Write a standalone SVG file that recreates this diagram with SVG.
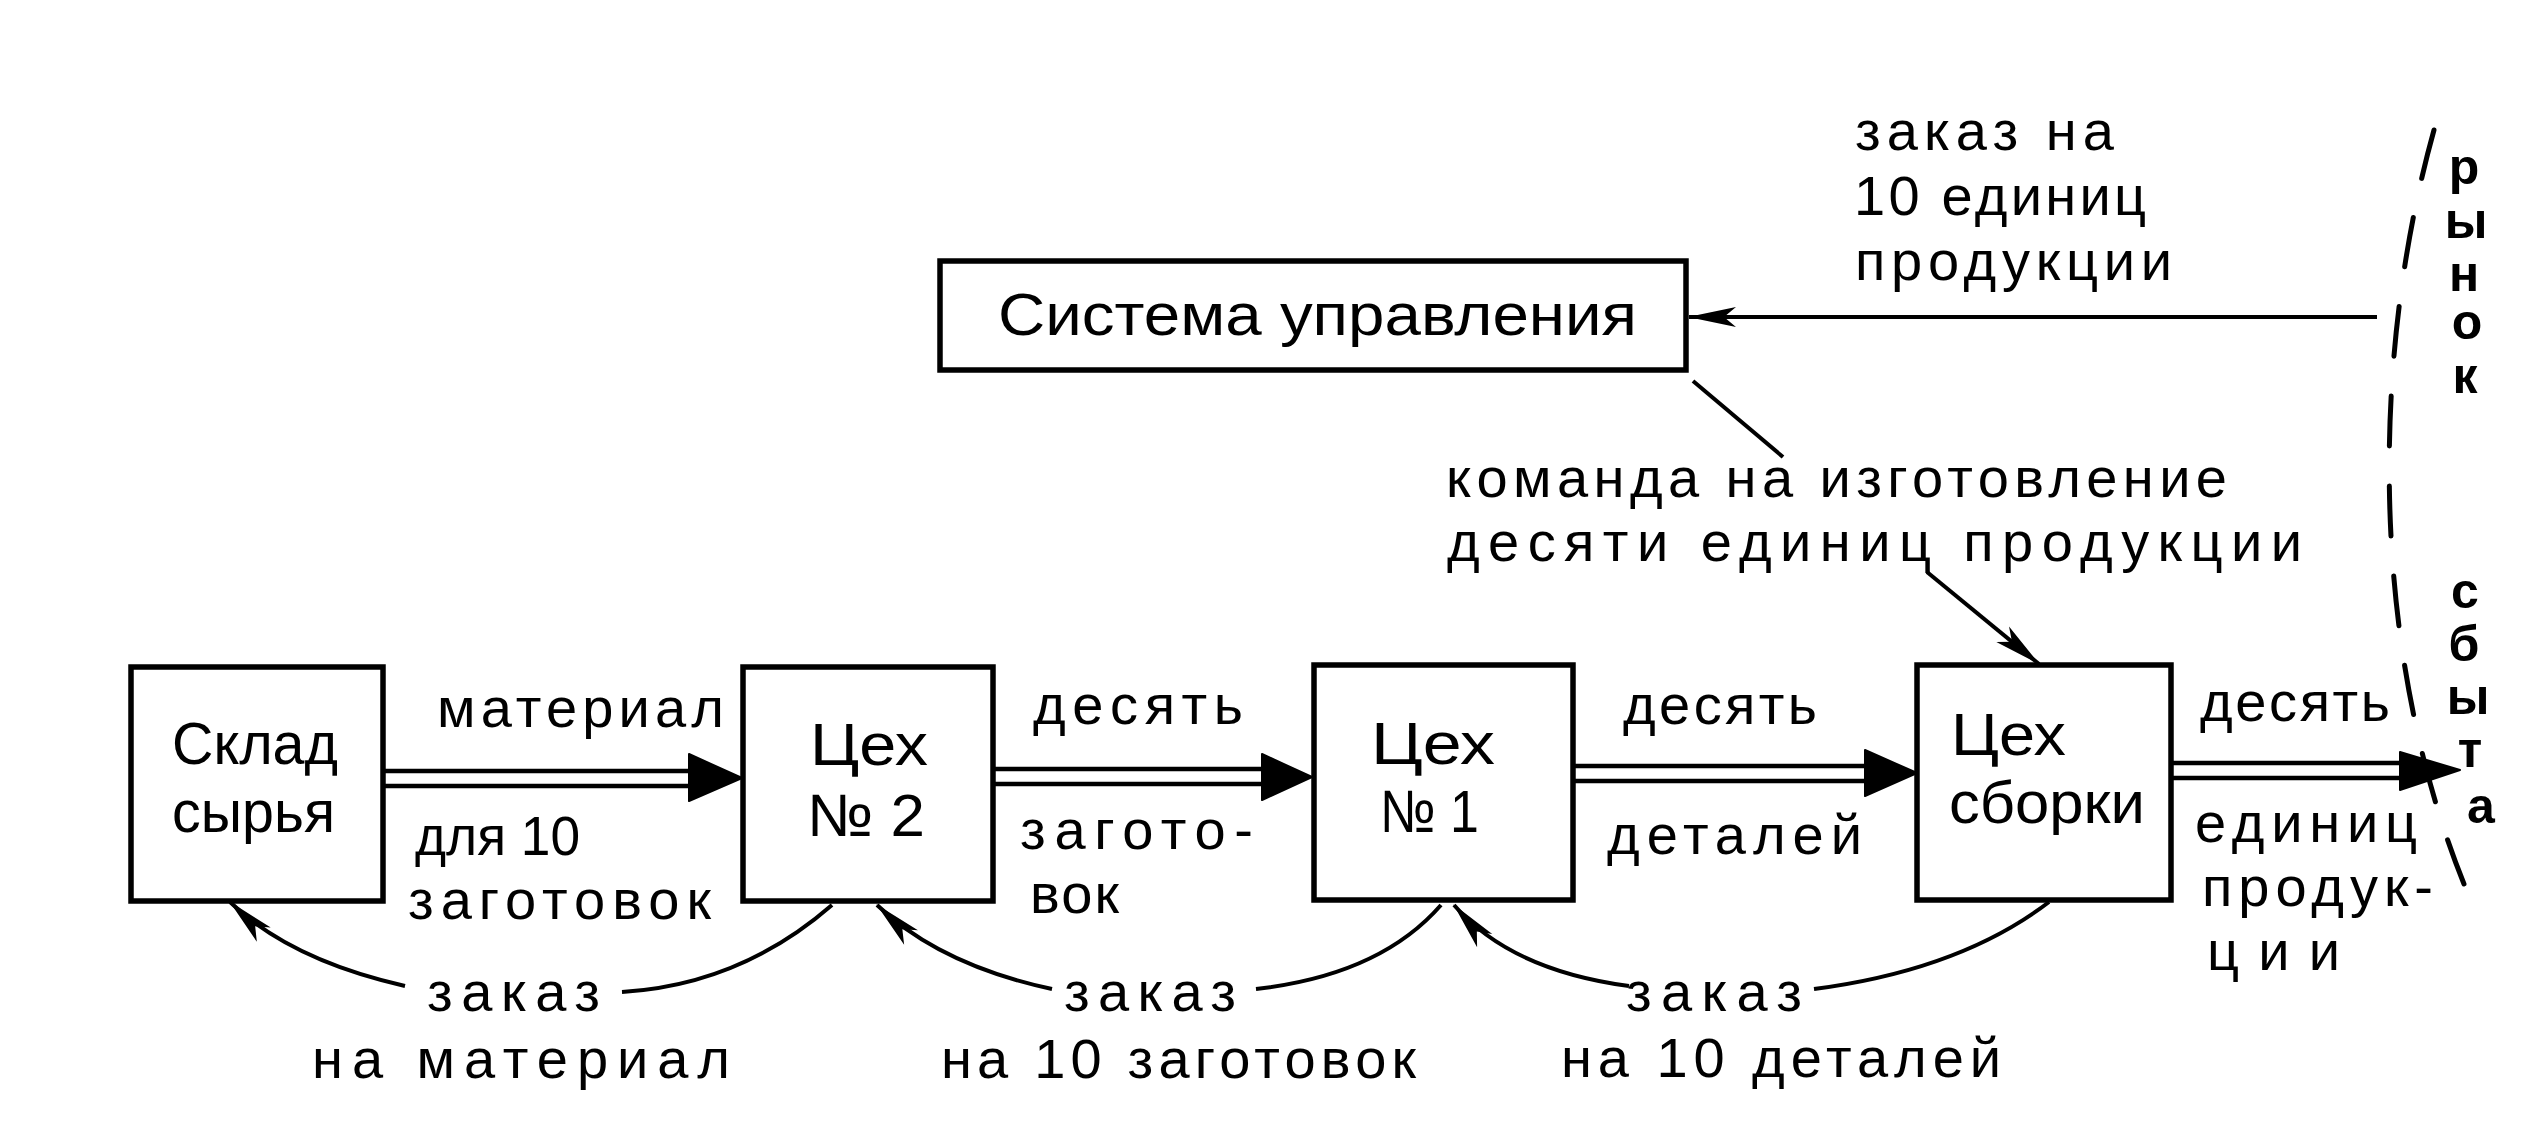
<svg xmlns="http://www.w3.org/2000/svg" width="2541" height="1135" viewBox="0 0 2541 1135">
<style>
.box{fill:#fff;stroke:#000;stroke-width:5.5}
.t{font-family:"Liberation Sans","DejaVu Sans",sans-serif;font-size:60px;fill:#000}
.l{font-family:"Liberation Sans","DejaVu Sans",sans-serif;font-size:56px;fill:#000}
.v{font-family:"Liberation Sans","DejaVu Sans",sans-serif;font-size:50px;font-weight:bold;fill:#000;text-anchor:middle}
.dbl{stroke:#000;stroke-width:4.5;fill:none}
.thin{stroke:#000;stroke-width:4;fill:none}
.head{fill:#000;stroke:#000;stroke-width:2;stroke-linejoin:round}
.dash{stroke:#000;stroke-width:5;fill:none;stroke-dasharray:50 40;stroke-linecap:round}
</style>
<defs>
<marker id="arr" viewBox="0 0 50 24" refX="48" refY="12" markerWidth="50" markerHeight="24" markerUnits="userSpaceOnUse" orient="auto">
<path d="M1,2 L49,12 L1,22 L13,12 Z" fill="#000"/>
</marker>
</defs>
<rect width="2541" height="1135" fill="#fff"/>

<g id="connectors">
<line class="dbl" x1="383" y1="771" x2="692" y2="771"/>
<line class="dbl" x1="383" y1="786" x2="692" y2="786"/>
<polygon class="head" points="689,754 742,778 689,801"/>
<line class="dbl" x1="993" y1="769" x2="1265" y2="769"/>
<line class="dbl" x1="993" y1="784" x2="1265" y2="784"/>
<polygon class="head" points="1262,754 1312,777 1262,800"/>
<line class="dbl" x1="1573" y1="766" x2="1868" y2="766"/>
<line class="dbl" x1="1573" y1="781" x2="1868" y2="781"/>
<polygon class="head" points="1865,750 1917,773 1865,796"/>
<line class="dbl" x1="2171" y1="763" x2="2403" y2="763"/>
<line class="dbl" x1="2171" y1="778" x2="2403" y2="778"/>
<polygon class="head" points="2400,752 2460,770 2400,790"/>
<line class="thin" x1="2377" y1="317" x2="1689" y2="317" marker-end="url(#arr)"/>
<line class="thin" x1="1693" y1="381" x2="1783" y2="457"/>
<line class="thin" x1="1927" y1="572" x2="2039" y2="664" marker-end="url(#arr)"/>
<path class="thin" d="M832,905 Q740,985 622,992"/>
<path class="thin" d="M405,986 Q290,960 230,902" marker-end="url(#arr)"/>
<path class="thin" d="M1256,989 Q1380,975 1441,905"/>
<path class="thin" d="M1052,989 Q940,965 877,905" marker-end="url(#arr)"/>
<path class="thin" d="M1814,989 Q1960,970 2049,902"/>
<path class="thin" d="M1629,986 Q1510,970 1454,905" marker-end="url(#arr)"/>
<path class="dash" d="M2434,130 C2370,360 2370,650 2464,884"/>
</g>

<g id="control">
<rect class="box" x="940" y="261" width="746" height="109"/>
<text class="t" x="998" y="335" textLength="639" lengthAdjust="spacingAndGlyphs">Система управления</text>
</g>
<g id="sklad">
<rect class="box" x="131" y="667" width="252" height="234"/>
<text class="t"><tspan x="172" y="764" textLength="166" lengthAdjust="spacingAndGlyphs">Склад</tspan><tspan x="172" y="832" textLength="163" lengthAdjust="spacingAndGlyphs">сырья</tspan></text>
</g>
<g id="ceh2">
<rect class="box" x="743" y="667" width="250" height="234"/>
<text class="t"><tspan x="810" y="765" textLength="118" lengthAdjust="spacingAndGlyphs">Цех</tspan><tspan x="807" y="836" textLength="118" lengthAdjust="spacingAndGlyphs">№ 2</tspan></text>
</g>
<g id="ceh1">
<rect class="box" x="1314" y="665" width="259" height="235"/>
<text class="t"><tspan x="1371" y="764" textLength="124" lengthAdjust="spacingAndGlyphs">Цех</tspan><tspan x="1380" y="832" textLength="99" lengthAdjust="spacingAndGlyphs">№ 1</tspan></text>
</g>
<g id="sborka">
<rect class="box" x="1917" y="665" width="254" height="235"/>
<text class="t"><tspan x="1951" y="755" textLength="115" lengthAdjust="spacingAndGlyphs">Цех</tspan><tspan x="1949" y="823" textLength="196" lengthAdjust="spacingAndGlyphs">сборки</tspan></text>
</g>
<g id="market">
<text class="v" x="2464 2466 2464 2467 2465" y="184 238 291 339 393">рынок</text>
<text class="v" x="2465 2464 2468 2470 2481" y="608 661 714 767 823">сбыта</text>
</g>
<g id="labels">
<text class="l"><tspan x="1855" y="150" textLength="259">заказ на</tspan><tspan x="1854" y="215" textLength="292">10 единиц</tspan><tspan x="1855" y="280" textLength="317">продукции</tspan></text>
<text class="l"><tspan x="1446" y="497" textLength="781">команда на изготовление</tspan><tspan x="1447" y="561" textLength="855">десяти единиц продукции</tspan></text>
<text class="l" x="437" y="727" textLength="287">материал</text>
<text class="l"><tspan x="415" y="855" textLength="165" lengthAdjust="spacingAndGlyphs">для 10</tspan><tspan x="408" y="919" textLength="303">заготовок</tspan></text>
<text class="l" x="1033" y="724" textLength="210">десять</text>
<text class="l"><tspan x="1020" y="849" textLength="233">загото-</tspan><tspan x="1030" y="913" textLength="89">вок</tspan></text>
<text class="l" x="1623" y="724" textLength="194">десять</text>
<text class="l" x="1607" y="854" textLength="255">деталей</text>
<text class="l" x="2200" y="721" textLength="190">десять</text>
<text class="l"><tspan x="2195" y="842" textLength="222">единиц</tspan><tspan x="2202" y="906" textLength="231">продук-</tspan><tspan x="2207" y="970" textLength="133">ции</tspan></text>
<text class="l"><tspan x="427" y="1011" textLength="173">заказ</tspan><tspan x="312" y="1078" textLength="418">на материал</tspan></text>
<text class="l"><tspan x="1064" y="1011" textLength="172">заказ</tspan><tspan x="941" y="1078" textLength="475">на 10 заготовок</tspan></text>
<text class="l"><tspan x="1626" y="1011" textLength="176">заказ</tspan><tspan x="1561" y="1077" textLength="440">на 10 деталей</tspan></text>
</g>
</svg>
